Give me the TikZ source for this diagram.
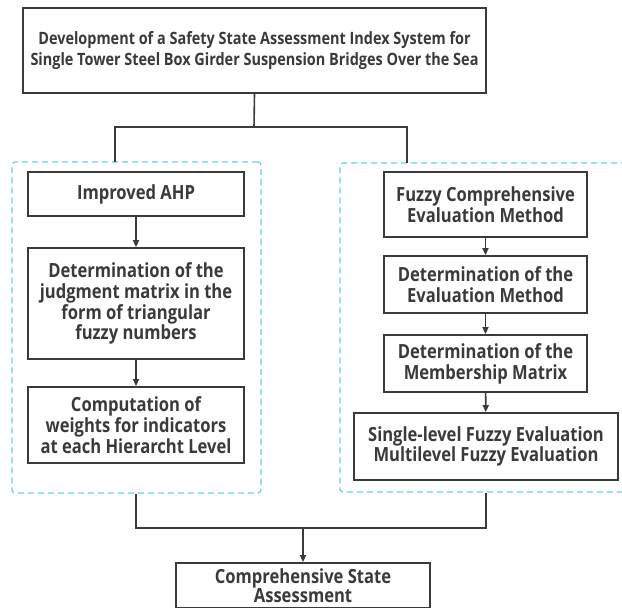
\documentclass[tikz,border=0pt]{standalone}
\usepackage{fontspec}
\setmainfont{Open Sans}[BoldFont={Open Sans Bold}, FakeStretch=0.85]
\usetikzlibrary{arrows.meta}
\definecolor{ink}{HTML}{3A3A3A}
\definecolor{frame}{HTML}{62D2D8}
\tikzset{
  stepbox/.style={draw=ink, line width=1.8pt, fill=white, align=center, inner sep=2pt,
    font=\fontsize{19.5}{20.8}\selectfont\bfseries, text=ink},
  headbox/.style={stepbox, font=\fontsize{17}{21.7}\selectfont\bfseries},
  group/.style={draw=frame, line width=1.2pt, dash pattern=on 6pt off 4pt, rounded corners=3pt},
  link/.style={ink, line width=1.6pt},
  flow/.style={link, -{Triangle[length=7pt,width=6pt]}}
}
\begin{document}
\begin{tikzpicture}[x=1pt, y=-1pt]
  \useasboundingbox (0,0) rectangle (622,608);
  % outer dashed frames
  \node[group, minimum width=249pt, minimum height=331pt] (lgrp) at (136.5,327.5) {};
  \node[group, minimum width=290pt, minimum height=329pt] (rgrp) at (485,327.5) {};

  \node[headbox, minimum width=463pt, minimum height=85pt] (top) at (254.5,50.5)
    {Development of a Safety State Assessment Index System for\\Single Tower Steel Box Girder Suspension Bridges Over the Sea};

  % improved AHP branch
  \node[stepbox, minimum width=216pt, minimum height=44pt] (ahp) at (136,194) {Improved AHP};
  \node[stepbox, minimum width=216pt, minimum height=111pt] (judg) at (136,303.5)
    {Determination of the\\judgment matrix in the\\form of triangular\\fuzzy numbers};
  \node[stepbox, minimum width=216pt, minimum height=76pt] (comp) at (136,425)
    {Computation of\\weights for indicators\\at each Hierarcht Level};

  % fuzzy evaluation branch
  \node[stepbox, minimum width=203pt, minimum height=65pt] (fcem) at (485.5,204.5)
    {Fuzzy Comprehensive\\Evaluation Method};
  \node[stepbox, minimum width=203pt, minimum height=57pt] (detm) at (485.5,284.5)
    {Determination of the\\Evaluation Method};
  \node[stepbox, minimum width=203pt, minimum height=57pt] (memb) at (485.5,363.5)
    {Determination of the\\Membership Matrix};
  \node[stepbox, minimum width=264pt, minimum height=67pt] (single) at (486,446.5)
    {Single-level Fuzzy Evaluation\\Multilevel Fuzzy Evaluation};

  \node[stepbox, minimum width=254pt, minimum height=45pt,
    font=\fontsize{19.5}{19}\selectfont\bfseries] (final) at (303,585.5)
    {Comprehensive State\\Assessment};

  % connectors
  \coordinate (split) at (254,127);
  \coordinate (ltap) at (115,162);
  \coordinate (rtap) at (407,163);
  \coordinate (join) at (303,528);
  \draw[link] (top.south) -- (split);
  \draw[link] (ltap) -- (ltap |- split) -- (rtap |- split) -- (rtap);
  \draw[flow] (ahp) -- (judg);
  \draw[flow] (judg) -- (comp);
  \draw[flow] (fcem) -- (detm);
  \draw[flow] (detm) -- (memb);
  \draw[flow] (memb) -- (single);
  \draw[link] (comp |- lgrp.south) -- (comp |- join) -- (single |- join) -- (single |- rgrp.south);
  \draw[flow] (join) -- (final);
\end{tikzpicture}
\end{document}
